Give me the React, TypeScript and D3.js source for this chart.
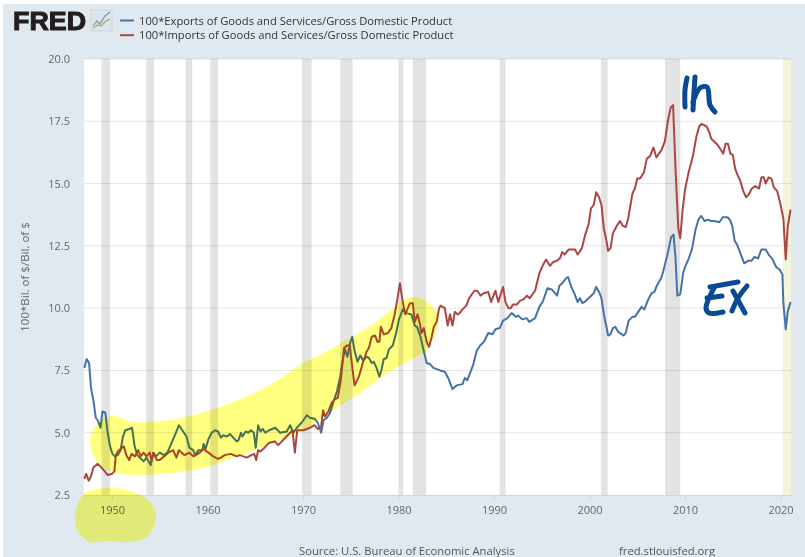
import React, { useRef, useEffect } from "react";
import * as d3 from "d3";

const seriesNames = [
  "100*Exports of Goods and Services/Gross Domestic Product",
  "100*Imports of Goods and Services/Gross Domestic Product",
];
const xTicks = [1950, 1960, 1970, 1980, 1990, 2000, 2010, 2020];
const yTicks = [2.5, 5, 7.5, 10, 12.5, 15, 17.5, 20];

const recessionStarts = [1948.9, 1953.6, 1957.7, 1960.3, 1969.9, 1973.9, 1980.0, 1981.5, 1990.6, 2001.2, 2007.9];
const recessionEnds = [1949.8, 1954.4, 1958.4, 1961.1, 1970.9, 1975.2, 1980.5, 1982.9, 1991.2, 2001.9, 2009.5];
const covidBand = [2020.25, 2021.07];

const exportYears = [
  1947.1, 1947.35, 1947.6, 1947.8, 1948.05, 1948.3, 1948.5, 1948.8, 1949.0, 1949.3, 1949.55, 1949.8,
  1950.05, 1950.3, 1950.6, 1950.9, 1951.15, 1951.4, 1951.8, 1952.1, 1952.35, 1952.65, 1952.9, 1953.3,
  1953.6, 1954.05, 1954.3, 1954.6, 1955.0, 1955.45, 1955.8, 1956.25, 1956.7, 1957.0, 1957.45, 1957.8,
  1958.1, 1958.5, 1958.7, 1959.05, 1959.45, 1959.6, 1959.8, 1960.1, 1960.45, 1960.8, 1961.1, 1961.4,
  1961.65, 1962.05, 1962.35, 1962.7, 1963.05, 1963.25, 1963.5, 1963.65, 1964.0, 1964.25, 1964.55, 1964.85,
  1965.05, 1965.3, 1965.55, 1965.8, 1966.05, 1966.45, 1967.1, 1967.6, 1968.3, 1968.65, 1969.0, 1969.35,
  1969.85, 1970.4, 1970.75, 1971.25, 1971.55, 1971.9, 1972.15, 1972.5, 1972.85, 1973.2, 1973.55, 1973.9,
  1974.15, 1974.4, 1974.65, 1974.9, 1975.15, 1975.4, 1975.7, 1976.0, 1976.3, 1976.65, 1976.9, 1977.2,
  1977.4, 1977.7, 1978.0, 1978.2, 1978.45, 1978.75, 1979.0, 1979.4, 1979.75, 1980.05, 1980.45, 1980.8,
  1981.35, 1981.7, 1981.95, 1982.3, 1982.6, 1982.95, 1983.3, 1983.65, 1984.35, 1984.85, 1985.2, 1985.65,
  1986.1, 1986.7, 1986.95, 1987.2, 1987.8, 1988.2, 1988.55, 1988.95, 1989.4, 1989.85, 1990.15, 1990.6,
  1990.95, 1991.4, 1991.85, 1992.3, 1992.55, 1992.95, 1993.4, 1993.7, 1994.3, 1994.75, 1995.15, 1995.6,
  1996.05, 1996.6, 1996.85, 1997.15, 1997.55, 1997.75, 1998.1, 1998.4, 1998.75, 1999.0, 1999.25, 1999.5,
  1999.9, 2000.45, 2000.7, 2001.0, 2001.25, 2001.55, 2001.8, 2001.95, 2002.2, 2002.45, 2002.7, 2003.0,
  2003.55, 2003.8, 2004.1, 2004.5, 2004.75, 2005.1, 2005.45, 2005.75, 2006.15, 2006.5, 2006.8, 2007.05,
  2007.5, 2007.7, 2008.1, 2008.3, 2008.55, 2008.8, 2009.0, 2009.2, 2009.5, 2009.8, 2010.0, 2010.4,
  2010.75, 2011.1, 2011.4, 2011.7, 2012.05, 2012.4, 2012.7, 2013.1, 2013.6, 2013.95, 2014.45, 2014.7,
  2014.95, 2015.2, 2015.45, 2015.85, 2016.2, 2016.6, 2016.95, 2017.25, 2017.65, 2018.0, 2018.45, 2018.75,
  2019.1, 2019.55, 2019.9, 2020.2, 2020.3, 2020.55, 2020.75, 2021.05,
];
const exportValues = [
  7.6, 7.96, 7.8, 6.8, 6.3, 5.6, 5.5, 5.2, 5.85, 5.8, 5.0, 4.45,
  4.15, 4.05, 4.1, 4.3, 4.85, 5.1, 5.15, 5.2, 4.5, 4.1, 4.0, 3.85,
  4.0, 3.7, 4.2, 4.05, 4.2, 4.1, 4.2, 4.6, 5.0, 5.3, 5.05, 4.85,
  4.4, 4.3, 4.1, 4.3, 4.3, 4.55, 4.35, 4.75, 5.0, 5.1, 5.05, 4.8,
  4.9, 4.85, 4.95, 4.8, 4.65, 4.7, 5.0, 4.85, 5.05, 5.0, 5.1, 5.0,
  4.4, 5.3, 5.05, 5.15, 5.0, 5.1, 5.2, 5.0, 5.05, 5.3, 5.0, 5.2,
  5.4, 5.7, 5.6, 5.55, 5.4, 5.0, 5.5, 5.6, 5.8, 6.25, 6.65, 7.25,
  7.9, 8.35, 8.05, 8.55, 8.85, 8.3, 7.85, 8.1, 7.9, 8.05, 8.0, 7.8,
  7.85, 7.6, 7.25, 7.5, 7.95, 8.0, 8.35, 8.5, 9.0, 9.55, 9.95, 9.8,
  9.75, 9.3, 9.25, 8.85, 8.35, 7.8, 7.75, 7.6, 7.5, 7.45, 7.2, 6.75,
  6.9, 6.95, 7.2, 7.1, 7.7, 8.3, 8.5, 8.65, 9.0, 8.95, 9.15, 9.2,
  9.5, 9.6, 9.8, 9.65, 9.7, 9.55, 9.6, 9.45, 9.6, 10.05, 10.3, 10.8,
  10.75, 10.5, 10.9, 11.0, 11.2, 11.25, 10.85, 10.6, 10.25, 10.4, 10.2, 10.25,
  10.4, 10.6, 10.85, 10.65, 10.4, 9.65, 9.2, 8.9, 8.95, 9.2, 9.25, 9.05,
  8.9, 9.0, 9.5, 9.65, 9.65, 9.85, 10.05, 9.95, 10.35, 10.6, 10.65, 10.9,
  11.2, 11.45, 12.05, 12.4, 12.85, 12.95, 12.05, 10.5, 10.55, 11.4, 11.65, 12.0,
  12.4, 13.15, 13.55, 13.7, 13.5, 13.55, 13.5, 13.5, 13.45, 13.65, 13.65, 13.55,
  13.3, 12.7, 12.55, 12.15, 11.8, 11.9, 11.9, 12.05, 12.0, 12.35, 12.35, 12.15,
  12.0, 11.65, 11.55, 11.35, 10.2, 9.15, 9.85, 10.25,
];

const importYears = [
  1947.1, 1947.3, 1947.55, 1947.8, 1948.05, 1948.5, 1948.9, 1949.25, 1949.55, 1950.0, 1950.25, 1950.4,
  1950.6, 1950.9, 1951.25, 1951.5, 1951.8, 1952.05, 1952.4, 1952.75, 1953.0, 1953.3, 1953.6, 1953.95,
  1954.15, 1954.35, 1954.7, 1955.0, 1955.45, 1955.9, 1956.4, 1956.75, 1957.0, 1957.6, 1958.1, 1958.55,
  1959.2, 1959.55, 1960.1, 1960.6, 1961.1, 1961.4, 1961.8, 1962.45, 1963.05, 1963.4, 1964.1, 1964.6,
  1964.9, 1965.1, 1965.3, 1965.55, 1966.1, 1966.45, 1967.05, 1967.4, 1967.9, 1968.65, 1968.9, 1969.15,
  1969.4, 1970.05, 1970.75, 1971.2, 1971.55, 1971.9, 1972.1, 1972.3, 1972.65, 1973.0, 1973.35, 1973.65,
  1973.95, 1974.3, 1974.6, 1974.9, 1975.15, 1975.4, 1975.85, 1976.3, 1976.65, 1976.9, 1977.2, 1977.55,
  1977.8, 1978.0, 1978.15, 1978.45, 1978.9, 1979.25, 1979.6, 1979.9, 1980.15, 1980.4, 1980.7, 1981.2,
  1981.5, 1981.7, 1982.0, 1982.25, 1982.4, 1982.65, 1982.95, 1983.2, 1983.45, 1983.7, 1984.0, 1984.25,
  1984.4, 1984.85, 1985.15, 1985.4, 1985.65, 1985.9, 1986.2, 1986.4, 1986.7, 1987.1, 1987.4, 1987.95,
  1988.25, 1988.6, 1988.9, 1989.4, 1989.7, 1990.15, 1990.45, 1990.95, 1991.2, 1991.5, 1991.75, 1992.0,
  1992.4, 1992.75, 1993.1, 1993.45, 1993.75, 1994.3, 1994.75, 1995.15, 1995.45, 1995.85, 1996.2, 1996.6,
  1996.9, 1997.15, 1997.4, 1997.8, 1998.5, 1998.75, 1999.2, 1999.55, 1999.9, 2000.15, 2000.45, 2000.7,
  2001.0, 2001.25, 2001.5, 2001.8, 2001.95, 2002.2, 2002.45, 2002.85, 2003.2, 2003.5, 2003.8, 2004.05,
  2004.5, 2004.75, 2005.0, 2005.3, 2005.7, 2006.0, 2006.35, 2006.7, 2007.0, 2007.55, 2007.9, 2008.2,
  2008.5, 2008.75, 2009.0, 2009.3, 2009.5, 2009.75, 2010.0, 2010.35, 2010.85, 2011.2, 2011.5, 2011.75,
  2012.25, 2012.55, 2012.75, 2013.3, 2013.6, 2014.0, 2014.25, 2014.5, 2014.75, 2015.0, 2015.25, 2015.5,
  2015.75, 2016.1, 2016.4, 2016.65, 2017.0, 2017.35, 2017.75, 2018.0, 2018.25, 2018.45, 2018.75, 2019.05,
  2019.3, 2019.65, 2019.95, 2020.3, 2020.55, 2020.75, 2021.05,
];
const importValues = [
  3.15, 3.35, 3.07, 3.25, 3.6, 3.75, 3.6, 3.45, 3.3, 3.35, 3.45, 4.1,
  4.25, 4.35, 4.45, 4.1, 3.9, 4.15, 4.05, 4.3, 4.05, 4.2, 4.05, 4.2,
  3.85, 4.2, 3.9, 3.9, 4.05, 4.2, 4.3, 4.0, 4.3, 4.1, 4.2, 4.05,
  4.2, 4.35, 4.2, 4.05, 3.95, 4.0, 4.1, 4.15, 4.05, 4.1, 4.0, 4.1,
  4.15, 3.9, 4.3, 4.25, 4.45, 4.6, 4.65, 4.5, 4.7, 5.0, 5.1, 4.2,
  5.1, 5.1, 5.2, 5.3, 5.15, 5.25, 5.9, 5.65, 5.85, 6.2, 6.35, 6.4,
  7.1, 8.4, 8.5, 8.5, 7.65, 6.9, 7.25, 7.85, 8.25, 8.4, 8.85, 8.9,
  8.65, 8.65, 9.25, 8.95, 9.0, 9.2, 9.75, 10.4, 11.0, 10.35, 9.75, 10.2,
  10.2, 9.45, 9.75, 9.35, 9.0, 9.2, 8.65, 8.45, 8.8, 9.25, 9.45, 10.0,
  10.1, 10.0, 9.3, 9.75, 9.3, 9.85, 9.75, 9.8, 9.95, 10.1, 10.4, 10.7,
  10.7, 10.5, 10.6, 10.65, 10.25, 10.7, 10.25, 10.85, 10.25, 10.0, 10.0, 10.15,
  10.15, 10.3, 10.35, 10.5, 10.4, 10.7, 11.4, 11.75, 11.95, 11.7, 11.85, 11.9,
  12.0, 12.25, 12.15, 12.35, 12.35, 12.15, 12.4, 12.95, 13.35, 14.0, 14.15, 14.65,
  14.45, 14.15, 13.2, 12.65, 12.3, 12.4, 13.0, 13.3, 13.5, 13.3, 13.25, 13.6,
  14.6, 14.8, 15.2, 15.2, 15.45, 16.0, 16.1, 16.45, 16.05, 16.35, 16.7, 17.5,
  18.05, 18.15, 15.65, 13.2, 12.8, 13.95, 14.75, 15.4, 16.15, 16.9, 17.3, 17.4,
  17.3, 17.05, 16.8, 16.6, 16.45, 16.2, 16.6, 16.6, 16.2, 16.15, 15.6, 15.35,
  15.15, 14.7, 14.45, 14.55, 14.8, 14.9, 14.8, 15.25, 15.25, 15.0, 15.25, 15.2,
  14.85, 14.7, 14.25, 13.6, 11.95, 13.25, 13.95,
];

// hand-drawn overlays on top of the chart, in page pixels
const highlightBand: [number, number][] = [
  [90, 440], [97, 424], [113, 416], [133, 422], [170, 420], [220, 407], [270, 385], [303, 363], [320, 355],
  [343, 342], [370, 326], [390, 311], [403, 300], [413, 297], [427, 302], [437, 313], [438, 323], [433, 340],
  [425, 352], [410, 360], [383, 376], [360, 393], [333, 410], [320, 419], [303, 431], [287, 437], [257, 449],
  [227, 460], [203, 468], [170, 473], [137, 475], [113, 472], [97, 462],
];
const highlightBlob: [number, number][] = [
  [75, 517], [83, 495], [103, 488], [133, 492], [150, 502], [156, 517], [147, 537], [127, 542], [108, 541],
  [90, 542], [78, 532],
];
const handStrokes: [number, number][][] = [
  [[687, 78], [685, 90], [685, 107]],
  [[695, 77], [694, 92], [693, 110]],
  [[693, 102], [700, 88], [707, 87], [710, 105], [715, 112]],
  [[710, 287], [738, 282]],
  [[714, 288], [706, 308], [709, 313], [723, 312]],
  [[707, 298], [722, 296]],
  [[733, 291], [739, 302], [745, 313]],
  [[747, 286], [738, 298], [732, 311]],
];
const logoLines: [number, number][][] = [
  [[93, 26], [97, 21], [100, 24], [105, 16], [110, 12]],
  [[93, 28], [98, 25], [101, 26], [106, 21], [110, 19]],
];

const font = "'Open Sans', sans-serif";

export default function App() {
  const ref = useRef<SVGSVGElement>(null);

  useEffect(() => {
    const svg = d3.select(ref.current);
    svg.selectAll("*").remove();

    const width = 805;
    const height = 557;
    const left = 84;
    const right = 791;
    const top = 59;
    const bottom = 495;

    const x = d3.scaleLinear().domain([1950, 2020]).range([112, 780.5]);
    const y = d3.scaleLinear().domain([2.5, 20]).range([bottom, top]);

    svg.append("rect").attr("width", width).attr("height", height).attr("fill", "#fff");
    svg.append("rect").attr("x", 3).attr("y", 4).attr("width", width - 3).attr("height", height - 4).attr("fill", "#e1e9f0");
    svg.append("rect").attr("x", left).attr("y", top).attr("width", right - left).attr("height", bottom - top).attr("fill", "#fff");

    // recession bars
    svg.append("g").selectAll("rect").data(recessionStarts).join("rect")
      .attr("x", (d) => x(d))
      .attr("y", top)
      .attr("width", (d, i) => x(recessionEnds[i]) - x(d))
      .attr("height", bottom - top)
      .attr("fill", "#e3e3e3");
    svg.append("rect")
      .attr("x", x(covidBand[0]))
      .attr("y", top)
      .attr("width", right - x(covidBand[0]))
      .attr("height", bottom - top)
      .attr("fill", "#f5f3d9");

    // grid
    svg.append("g").selectAll("line").data(yTicks.slice(1)).join("line")
      .attr("x1", left).attr("x2", right)
      .attr("y1", (d) => y(d)).attr("y2", (d) => y(d))
      .attr("stroke", "#e6e6e6").attr("stroke-width", 1)
      .style("mix-blend-mode", "multiply");

    // axes
    const xAxis = svg.append("g")
      .attr("transform", `translate(0,${bottom})`)
      .call(d3.axisBottom(x).tickValues(xTicks).tickFormat(d3.format("d")).tickSize(5).tickPadding(6));
    xAxis.select(".domain").attr("d", `M${left},0.5H${right}`).attr("stroke", "#ccd6eb");
    xAxis.selectAll("line").attr("stroke", "#ccd6eb");
    xAxis.selectAll("text").attr("fill", "#666").style("font", `11px ${font}`);

    const yAxis = svg.append("g")
      .attr("transform", `translate(${left - 14},0)`)
      .call(d3.axisLeft(y).tickValues(yTicks).tickFormat(d3.format(".1f")).tickSize(0).tickPadding(0));
    yAxis.select(".domain").remove();
    yAxis.selectAll("text").attr("fill", "#666").style("font", `11px ${font}`);

    svg.append("text")
      .attr("transform", "translate(29,277) rotate(-90)")
      .attr("text-anchor", "middle")
      .attr("fill", "#666")
      .style("font", `11.5px ${font}`)
      .text("100*Bil. of $/Bil. of $");

    // series
    const draw = (years: number[], values: number[], color: string) => {
      const line = d3.line<number>()
        .x((d) => x(d))
        .y((_, i) => y(values[i]));
      svg.append("path")
        .attr("d", line(years))
        .attr("fill", "none")
        .attr("stroke", color)
        .attr("stroke-width", 2)
        .attr("stroke-linejoin", "round");
    };
    draw(exportYears, exportValues, "#4572a7");
    draw(importYears, importValues, "#aa4643");

    // highlighter
    const closed = d3.line().curve(d3.curveCatmullRomClosed);
    [highlightBand, highlightBlob].forEach((pts) => {
      svg.append("path")
        .attr("d", closed(pts))
        .attr("fill", "#ffff80")
        .style("mix-blend-mode", "multiply");
    });

    // handwriting
    const stroke = d3.line().curve(d3.curveCatmullRom);
    handStrokes.forEach((pts) => {
      svg.append("path")
        .attr("d", stroke(pts))
        .attr("fill", "none")
        .attr("stroke", "#0a4a94")
        .attr("stroke-width", 5)
        .attr("stroke-linecap", "round");
    });

    // header: logo and legend
    svg.append("text")
      .attr("x", 13).attr("y", 30)
      .attr("textLength", 73)
      .attr("lengthAdjust", "spacingAndGlyphs")
      .attr("fill", "#231f20")
      .attr("stroke", "#231f20")
      .attr("stroke-width", 1)
      .style("font", "bold 25px 'Liberation Sans', sans-serif")
      .text("FRED");
    svg.append("rect")
      .attr("x", 91).attr("y", 10).attr("width", 21).attr("height", 21)
      .attr("fill", "#dfe4e8").attr("stroke", "#bfc5ca").attr("stroke-width", 0.5);
    logoLines.forEach((pts, i) => {
      svg.append("path")
        .attr("d", d3.line()(pts))
        .attr("fill", "none")
        .attr("stroke", i === 0 ? "#6f9bbf" : "#8fb45a")
        .attr("stroke-width", 1.2);
    });

    const legend = svg.append("g").selectAll("g").data(seriesNames).join("g")
      .attr("transform", (_, i) => `translate(120,${20.5 + i * 14.7})`);
    legend.append("line")
      .attr("x1", 0).attr("x2", 14)
      .attr("stroke", (_, i) => (i === 0 ? "#4572a7" : "#aa4643"))
      .attr("stroke-width", 2);
    legend.append("text")
      .attr("x", 19).attr("y", 4)
      .attr("fill", "#333")
      .style("font", `11.2px ${font}`)
      .text((d) => d);

    // footer
    svg.append("text").attr("x", 299).attr("y", 554.5).attr("fill", "#555")
      .style("font", `11.25px ${font}`).text("Source: U.S. Bureau of Economic Analysis");
    svg.append("text").attr("x", 619).attr("y", 554.5).attr("fill", "#555")
      .style("font", `11.25px ${font}`).text("fred.stlouisfed.org");
  }, []);

  return (
    <svg
      ref={ref}
      width={805}
      height={557}
      style={{ position: "absolute", left: 0, top: 0, display: "block" }}
    ></svg>
  );
}
